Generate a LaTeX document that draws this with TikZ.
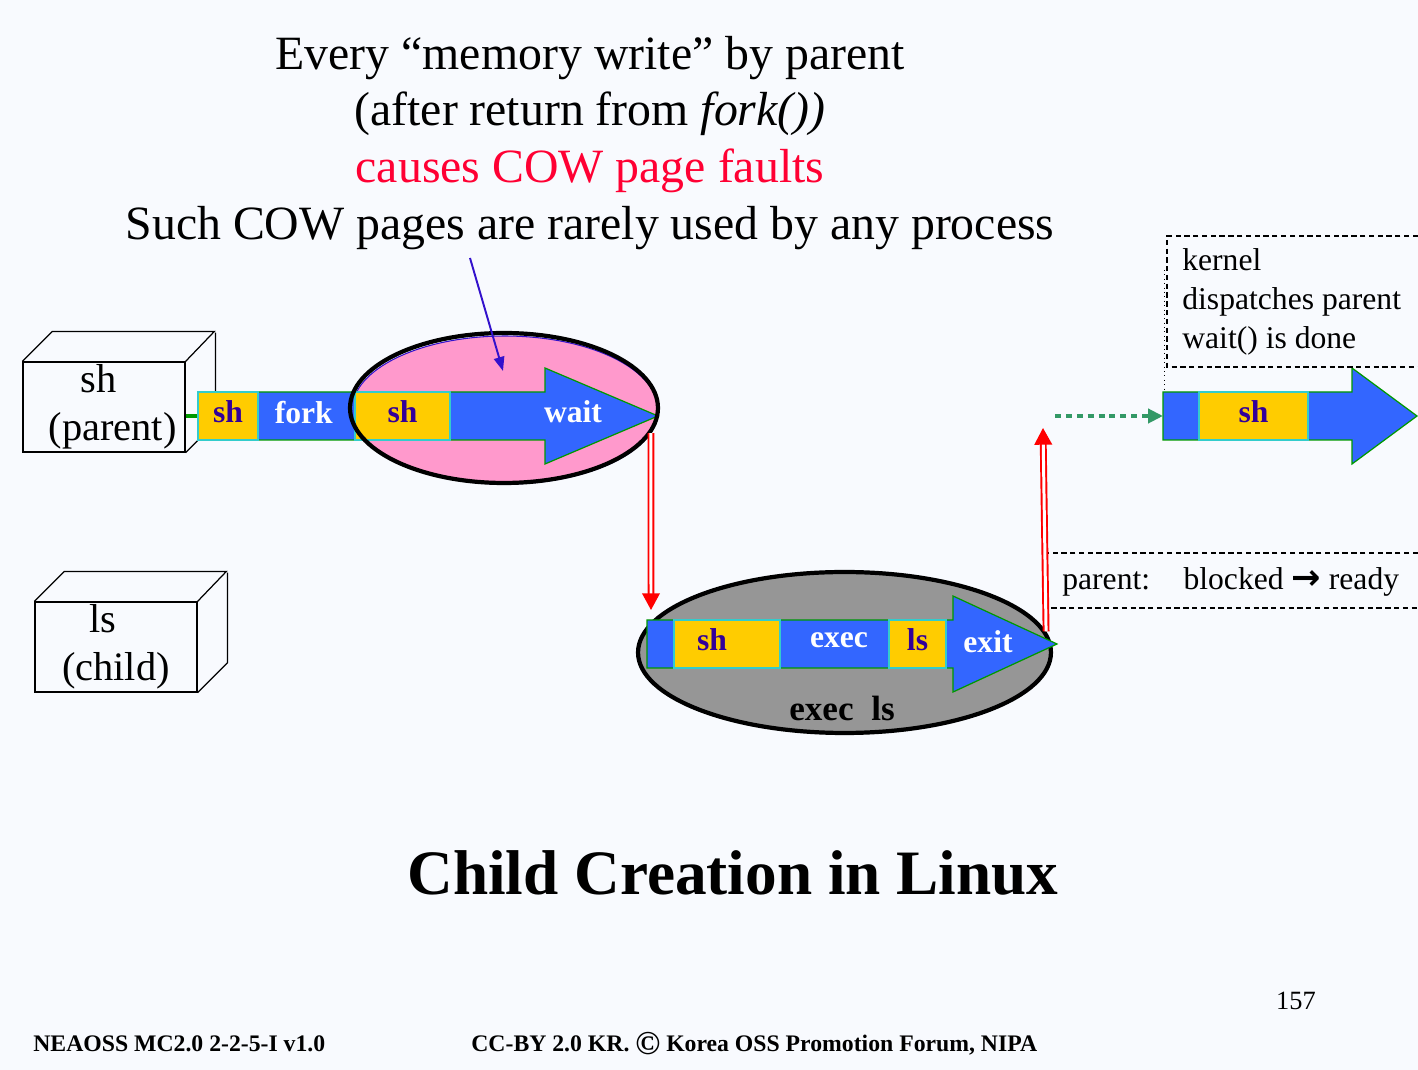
\documentclass[tikz,border=0pt]{standalone}
\usepackage{fontspec}
\setmainfont{Liberation Serif}
\newfontfamily\arrowfont{DejaVu Sans}
\usepackage{tikz}
\usetikzlibrary{arrows.meta,positioning,shapes.geometric}

\definecolor{paper}{HTML}{F8FAFE}
\definecolor{procblue}{HTML}{3366FF}
\definecolor{procyellow}{HTML}{FFCC00}
\definecolor{procink}{HTML}{330099}
\definecolor{cowpink}{HTML}{FF99CC}
\definecolor{cowred}{HTML}{FF0033}
\definecolor{pointer}{HTML}{3311CC}
\definecolor{dispatch}{HTML}{339966}
\definecolor{barline}{HTML}{009900}
\definecolor{boxline}{HTML}{33CCCC}
\definecolor{exegray}{HTML}{969696}

\begin{document}
\begin{tikzpicture}[x=0.02cm, y=-0.02cm,
  flow/.style={fill=procblue, draw=barline, line width=0.7pt},
  slot/.style={fill=procyellow, draw=boxline, line width=0.7pt, minimum height=0.96cm, inner sep=0pt},
  ink/.style={text=procink, text depth=4.6pt, font=\bfseries\fontsize{18}{22}\selectfont},
  op/.style={text=white, text depth=4.6pt, font=\bfseries\fontsize{18}{22}\selectfont},
  cube/.style={draw, fill=paper, line width=0.7pt, minimum width=3.24cm, minimum height=1.8cm, inner sep=0pt, align=left, font=\fontsize{23}{27}\selectfont},
  blob/.style={ellipse, inner sep=0pt},
  dbl/.style={draw=red, double=white, line width=1.1pt, double distance=1.7pt, -{Triangle[width=10pt,length=9.5pt]}},
  note/.style={font=\fontsize{18}{22.2}\selectfont, inner sep=0pt},
  dashbox/.style={line width=0.6pt, dash pattern=on 3pt off 2pt}
]

  % Page
  \useasboundingbox (0,0) rectangle (1418,1070);
  \fill[paper] (0,0) rectangle (1418,1070);

  % Define nodes
  \node[align=center, inner sep=0pt, font=\fontsize{27.2}{32.4}\selectfont] (head) at (590,143)
    {Every “memory write” by parent\\
     (after return from \textit{fork())}\\
     \textcolor{cowred}{causes COW page faults}\\
     Such COW pages are rarely used by any process};

  \node[cube] (par) at (104,407) {\hspace*{28pt}sh\\\hspace*{9.7pt}(parent)};
  \draw[line width=0.7pt] (par.north west) -- ++(30,-30) -- ++(162,0) -- (par.north east)
    (par.south east) -- ++(30,-30) -- ++(0,-90);
  \node[cube] (chd) at (116,647) {\hspace*{15.6pt}ls\\(child)};
  \draw[line width=0.7pt] (chd.north west) -- ++(30,-30) -- ++(162,0) -- (chd.north east)
    (chd.south east) -- ++(30,-30) -- ++(0,-90);

  % parent runs
  \node[blob, fill=cowpink, draw=pointer, line width=0.6pt, minimum width=6.12cm, minimum height=2.96cm] (cow) at (505,410) {};
  \draw[flow] (198,392) -- (545,392) -- (545,368) -- (658,416) -- (545,464) -- (545,440) -- (198,440) -- cycle;
  \node[slot, ink, minimum width=1.2cm] (sh1) at (228,416) {sh};
  \node[op, right=0.2cm of sh1] (fork) {fork};
  \node[slot, ink, minimum width=1.9cm] (sh2) at (402.5,416) {sh};
  \node[op] (wait) at (573,416) {wait};
  \node[blob, draw, line width=2.4pt, minimum width=6.16cm, minimum height=3.0cm] (ring) at (504,408) {};

  % child runs
  \node[blob, fill=exegray, draw, line width=2.4pt, minimum width=8.26cm, minimum height=3.22cm] (exe) at (844.5,652.5) {};
  \draw[flow] (647,620) -- (953,620) -- (953,596) -- (1057,644) -- (953,692) -- (953,668) -- (647,668) -- cycle;
  \node[slot, minimum width=2.12cm] (sh3) at (727,644) {};
  \node[ink] (sh3l) at (712,644) {sh};
  \node[op] (exec) at (839,644) {exec};
  \node[slot, ink, minimum width=1.14cm] (ls) at (917.5,644) {ls};
  \node[op] (exit) at (988,646) {exit};
  \node[font=\bfseries\fontsize{20}{24}\selectfont] (execls) at (842,708) {exec\ \ ls};

  % parent runs again
  \draw[flow] (1163,392) -- (1352,392) -- (1352,368) -- (1417,416) -- (1352,464) -- (1352,440) -- (1163,440) -- cycle;
  \node[slot, ink, minimum width=2.18cm] (sh4) at (1253.5,416) {sh};

  % notes
  \draw[dashbox] (1418,236) -- (1167,236) -- (1167,367) -- (1418,367);
  \draw[dotted, line width=0.5pt] (1164,270) -- (1164,391);
  \node[note, anchor=west, align=left] (kern) at (1182,302) {kernel\\dispatches parent\\wait() is done};
  \draw[dashbox] (1418,553) -- (1047,553) -- (1047,608) -- (1418,608);
  \node[note, anchor=west] (state) at (1062,582) {parent:\hspace{19pt}blocked {\arrowfont\bfseries\fontsize{20}{22}\selectfont →} ready};

  \node[font=\bfseries\fontsize{36}{43}\selectfont] (title) at (733,873) {Child Creation in Linux};
  \node[anchor=base west, inner sep=0pt, font=\bfseries\fontsize{13.5}{16}\selectfont] (ver) at (33,1052) {NEAOSS MC2.0 2-2-5-I v1.0};
  \node[anchor=base west, inner sep=0pt, font=\bfseries\fontsize{13.5}{16}\selectfont] (lic) at (471,1052) {CC-BY 2.0 KR. \raisebox{-1.5pt}{\fontsize{19}{16}\selectfont ©} Korea OSS Promotion Forum, NIPA};
  \node[font=\fontsize{15}{18}\selectfont] (page) at (1296,1001) {157};

  \coordinate (note) at (470,258);
  \coordinate (hit) at (503,371);
  \coordinate (down) at (651,610);
  \coordinate (up) at (1043,428);
  \coordinate (wake) at (1055,416);
  \coordinate (back) at (1163,416);

  % Connect the nodes
  \draw[barline, line width=2.3pt] (par.east |- sh1.west) -- (sh1.west);
  \draw[pointer, line width=1.1pt, -{Triangle[width=6pt,length=8pt]}] (note) -- (hit);
  \draw[dbl] (cow.-9) -- (down);
  \draw[dbl] (exe.6) -- (up);
  \draw[dispatch, line width=2.8pt, dash pattern=on 3.4pt off 2.8pt, -{Triangle[width=8pt,length=8.5pt]}] (wake) -- (back);

\end{tikzpicture}
\end{document}
